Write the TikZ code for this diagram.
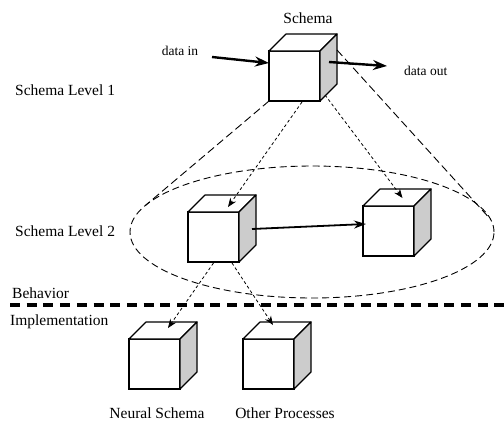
\documentclass[tikz,border=0pt]{standalone}
\usepackage{fontspec}
\setmainfont{Liberation Serif}
\usetikzlibrary{arrows.meta,calc,shapes.geometric}
\definecolor{sidegray}{HTML}{CCCCCC}
\tikzset{
  frontface/.style={draw, fill=white, line width=1.2pt, minimum width=51pt, minimum height=50pt, inner sep=0pt, outer sep=0pt},
  cubeedge/.style={line width=1.2pt, line join=round},
  lbl/.style={font=\fontsize{15.5}{18}\selectfont, inner sep=0pt},
  smlbl/.style={font=\fontsize{13.5}{16}\selectfont, inner sep=0pt},
  bigarrow/.style={line width=2.4pt, -{Stealth[length=14pt, width=10pt]}},
  midarrow/.style={line width=1.8pt, -{Stealth[length=12pt, width=8pt]}},
  dotarrow/.style={line width=0.8pt, dash pattern=on 3pt off 2.5pt, -{Stealth[length=9pt, width=7pt]}},
  conedash/.style={line width=0.9pt, dash pattern=on 8pt off 4pt},
  elldash/.style={line width=0.9pt, dash pattern=on 7pt off 4pt},
  sepline/.style={line width=3.5pt, dash pattern=on 10pt off 6.7pt},
}
\newcommand{\cubeat}[3]{%
  \node[frontface] (#1) at (#2+25.5, #3+25) {};
  \draw[cubeedge, fill=white] (#1.north west) -- ++(17,-17) -- ++(51,0) -- (#1.north east) -- cycle;
  \draw[cubeedge, fill=sidegray] (#1.north east) -- ++(17,-17) -- ++(0,50) -- (#1.south east) -- cycle;
}
\begin{document}
\begin{tikzpicture}[x=1pt, y=-1pt]
\useasboundingbox (0,0) rectangle (504,421);

% ellipse (level 2 group)
\node[ellipse, draw, elldash, minimum width=364pt, minimum height=132pt, inner sep=0pt, outer sep=0pt] (ell) at (312,232) {};

% cubes
\cubeat{c1}{269}{51}
\cubeat{c2}{188}{212}
\cubeat{c3}{363}{206}
\cubeat{c4}{129}{339}
\cubeat{c5}{243}{339}

% cone lines
\coordinate (rf) at ($(c1.north east)+(17,-1)$);
\draw[conedash] (c1.south west) -- (ell.171);
\draw[conedash] (rf) -- (ell.4.5);

% dotted arrows
\draw[dotarrow] ($(c1.south)+(7.5,1)$) -- ($(c2.north)+(14.5,-5)$);
\draw[dotarrow] ($(c1.south east)+(5,-6)$) -- ($(c3.north)+(14,-8)$);
\draw[dotarrow] ($(c2.south)+(0,1)$) -- ($(c4.north)+(13.5,-11)$);
\draw[dotarrow] ($(c2.south)+(18.5,1)$) -- ($(c5.north)+(4.5,-14)$);

% solid arrows
\coordinate (din) at (212,57);
\coordinate (dout) at (387,66);
\draw[bigarrow] (din) -- ($(c1.north west)+(0,12)$);
\draw[bigarrow] ($(c1.north east)+(9,11)$) -- (dout);
\draw[midarrow] ($(c2.east)+(13,-8)$) -- ($(c3.west)+(3,-7)$);

% separator
\coordinate (s1) at (10,305);
\coordinate (s2) at (504,305);
\draw[sepline] (s1) -- (s2);

% labels
\node[lbl, anchor=base] (tschema) at (308,23) {Schema};
\node[smlbl, anchor=base] (tdin) at (180,55) {data in};
\node[smlbl, anchor=base west] (tdout) at (404,75) {data out};
\node[lbl, anchor=base west] (tl1) at (15,95) {Schema Level 1};
\node[lbl, anchor=base west] (tl2) at (15,236) {Schema Level 2};
\node[lbl, anchor=base west] (tbeh) at (12,298) {Behavior};
\node[lbl, anchor=base west] (timp) at (10,325) {Implementation};
\node[lbl, anchor=base] (tneu) at (157,418) {Neural Schema};
\node[lbl, anchor=base] (toth) at (285,418) {Other Processes};
\end{tikzpicture}
\end{document}
